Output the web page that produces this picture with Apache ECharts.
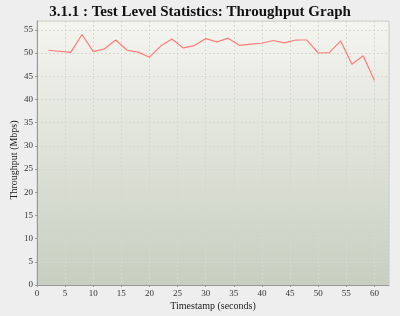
<!DOCTYPE html>
<html><head><meta charset="utf-8">
<script src="https://cdn.jsdelivr.net/npm/echarts@6/dist/echarts.min.js"></script>
<style>html,body{margin:0;padding:0;background:#eeeeee;}#c{width:400px;height:316px;}</style>
</head><body><div id="c"></div>
<script>
var timestamps = [2, 6, 8, 10, 12, 14, 16, 18, 20, 22, 24, 26, 28, 30, 32, 34, 36, 38, 40, 42, 44, 46, 48, 50, 52, 54, 56, 58, 60];
var throughput = [50.6, 50.15, 54.0, 50.3, 50.9, 52.8, 50.6, 50.2, 49.1, 51.5, 53.0, 51.1, 51.6, 53.1, 52.4, 53.2, 51.65, 51.9, 52.1, 52.7, 52.2, 52.8, 52.8, 50.0, 50.1, 52.6, 47.6, 49.4, 44.1];
var titleText = '3.1.1 : Test Level Statistics: Throughput Graph';
var xName = 'Timestamp (seconds)';
var yName = 'Throughput (Mbps)';

var pts = timestamps.map(function (t, i) { return [t, throughput[i]]; });
var chart = echarts.init(document.getElementById('c'), null, {renderer: 'canvas'});
var serif = '"Liberation Serif", serif';
chart.setOption({
  backgroundColor: '#eeeeee',
  animation: false,
  title: {text: titleText, left: 'center', top: 0,
    textStyle: {fontFamily: serif, fontWeight: 'bold', fontSize: 15, color: '#111'}},
  grid: {left: 37, right: 11, top: 21, bottom: 31, outerBoundsMode: 'none', containLabel: false,
    show: true, borderColor: '#cccccc', borderWidth: 1,
    backgroundColor: new echarts.graphic.LinearGradient(0, 0, 0, 1, [
      {offset: 0, color: '#f4f5ef'}, {offset: 1, color: '#c8cec0'}])},
  xAxis: {type: 'value', min: 0, max: 62.6, interval: 5,
    name: xName, nameLocation: 'middle', nameGap: 16, nameMoveOverlap: false,
    nameTextStyle: {fontFamily: serif, fontSize: 10, color: '#222'},
    axisLine: {show: true, lineStyle: {color: '#999'}},
    axisTick: {show: true, length: 2, lineStyle: {color: '#999'}},
    axisLabel: {fontFamily: serif, fontSize: 9, color: '#333', margin: 4, showMaxLabel: false},
    splitLine: {show: true, lineStyle: {color: '#d6d8d0', type: [2, 2]}}},
  yAxis: {type: 'value', min: 0, max: 56.9, interval: 5,
    name: yName, nameLocation: 'middle', nameGap: 18, nameMoveOverlap: false,
    nameTextStyle: {fontFamily: serif, fontSize: 10, color: '#222', padding: [0, 14, 0, 0]},
    axisLine: {show: true, lineStyle: {color: '#999'}},
    axisTick: {show: true, length: 2, lineStyle: {color: '#999'}},
    axisLabel: {fontFamily: serif, fontSize: 9, color: '#333', margin: 4, showMaxLabel: false},
    splitLine: {show: true, lineStyle: {color: '#d6d8d0', type: [2, 2]}}},
  series: [{type: 'line', data: pts, showSymbol: false, symbol: 'none',
    lineStyle: {color: '#ff7c7c', width: 1.2}}]
});
</script></body></html>
